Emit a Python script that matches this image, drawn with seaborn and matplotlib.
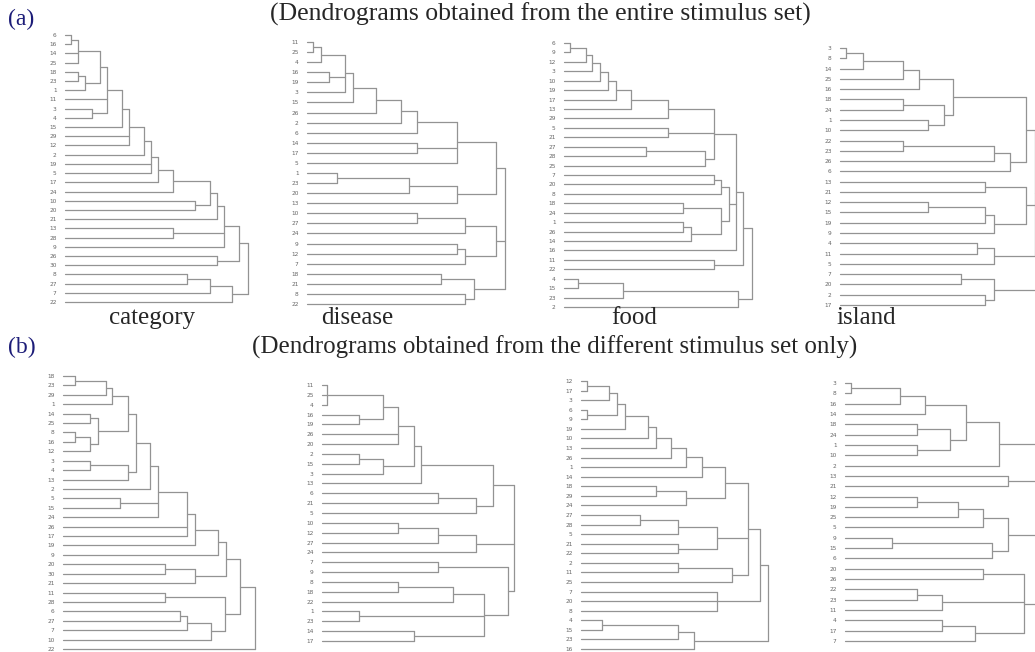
import matplotlib.pyplot as plt
import pandas as pd
import seaborn as sns

# Each tree node is [merge height, child, child, ...]; plain ints are stimulus numbers.
category_all = [550,
                [523,
                 [478,
                  [455,
                   [435,
                    [325,
                     [280,
                      [257,
                       [238,
                        [192,
                         [170,
                          [127,
                           [105, [40, [17, 6, 16], 14, 25], [60, [40, 18, 23], 1]],
                           11, [82, 3, 4]],
                          15],
                         29, 12],
                        2],
                       19, 5],
                      17],
                     24],
                    [390, 10, 20]],
                   21],
                  [325, 13, 28], 9],
                 [455, 26, 30]],
                [500, [435, [367, 8, 27], 7], 22]]

disease_all = [593,
               [566,
                [451,
                 [331, [283, [208, [138, [113, [41, [18, 11, 25], 4], [66, 16, 19], 3], 15], 26], 2], 6],
                 [331, 14, 17], 5],
                [451, [306, [91, 1, 23], 20], 13]],
               [566, [475, [331, 10, 27], 24], [475, [451, 9, 12], 7]],
               [500, [401, 18, 21], [475, 8, 22]]]

food_all = [563,
            [536,
             [517,
              [449,
               [313, [200, [155, [132, [109, [85, [65, [19, 6, 9], 12], 3], 10], 19], 17], 13], 29],
               [313, 5, 21],
               [424, [245, 27, 28], 25]],
              [494,
               [470, [449, 7, 20], 8],
               [470, [357, 18, 24], [380, [357, 1, 26], 14]]],
              16],
             [449, 11, 22]],
            [522, [177, [42, 4, 15], 23], 2]]

island_all = [615,
              [585,
               [558,
                [338, [238, [190, [68, [18, 3, 8], 14], 25], 16], [313, [190, 18, 24], [265, 1, 10]]],
                [510, [462, [190, 22, 23], 26], 6]],
               [558, [435, 13, 21], [462, [435, [265, 12, 15], 19], 9]],
               [462, [412, 4, 11], 5]],
              [462, [363, 7, 20], [435, 2, 17]]]

category_diff = [577,
                 [530,
                  [488,
                   [465,
                    [397,
                     [372,
                      [285,
                       [260, [218, [195, [148, [128, [37, 18, 23], 29], 1],
                                        [105, [82, 14, 25], [82, [37, 8, 16], 12]]],
                                  [195, [82, 3, 4], 13]], 2],
                       [172, 5, 15], 24],
                      26, 17],
                     19],
                    9],
                   [397, [307, 20, 30], 21]],
                  [485, [307, 11, 28], [443, [372, [352, 6, 27], 7], 10]]],
                 22]

disease_diff = [577,
                [512,
                 [298, [275, [228, [182, [15, 11, 25, 4], [110, 16, 19]], 26, 20],
                        [182, [110, 2, 15], 3]], 13],
                 [463, [347, 6, 21], 5]],
                [463, [347, [228, 10, 12], 27], 24],
                [557, [347, 7, 9], [487, [393, [228, 8, 18], 22], [110, 1, 23], [275, 14, 17]]]]

food_diff = [562,
             [537,
              [500,
               [432, [362, [315, [270, [224, [200, [132, [109, [85, [17, 12, 17], 3], [17, 6, 9]],
                                                      19], 10], 13], 26], 1], 14],
                [315, [224, 18, 29], 24]],
               [409, [292, [177, 27, 28], 5], [292, 21, 22]],
               [454, [292, 2, 11], 25]],
              [409, 7, 20, 8]],
             [339, [292, [62, 4, 15], 23], 16]]

island_diff = [590,
               [463, [363, [240, [165, [18, 3, 8], 16], 14], [315, [217, 18, 24], [217, 1, 10]]], 2],
               [488, 13, 21],
               [488, [413, [338, [217, 12, 19], 25], 5], [440, [140, 9, 15], 6]],
               [538, [413, 20, 26], [290, [217, 22, 23], 11], [390, [290, 4, 17], 7]]]

panel_names = ['category', 'disease', 'food', 'island']
title_a = '(Dendrograms obtained from the entire stimulus set)'
title_b = '(Dendrograms obtained from the different stimulus set only)'

W, H = 1035, 652
# tree, left edge of leaves (px), first leaf y (px), last leaf y (px)
panels = [
    (category_all, 65, 35, 302),
    (disease_all, 307, 42, 304),
    (food_all, 564, 43, 307),
    (island_all, 840, 48, 305),
    (category_diff, 63, 376, 649),
    (disease_diff, 322, 385, 641),
    (food_diff, 581, 381, 649),
    (island_diff, 845, 383, 641),
]


def tree_segments(tree):
    rows, leaves = [], []

    def add(x0, x1, y0, y1):
        seg = len(rows) // 2
        rows.append((x0, y0, seg))
        rows.append((x1, y1, seg))

    def walk(node):
        if isinstance(node, int):
            leaves.append(node)
            return len(leaves) - 1, 0
        h = node[0]
        kids = [walk(c) for c in node[1:]]
        ys = [k[0] for k in kids]
        for y, x in kids:
            add(x, h, y, y)
        add(h, h, min(ys), max(ys))
        return (min(ys) + max(ys)) / 2, h

    walk(tree)
    df = pd.DataFrame(rows, columns=['x', 'y', 'seg'])
    return df, leaves, tree[0]


sns.set_style('white')
plt.rcParams['font.family'] = ['Liberation Serif', 'DejaVu Serif']

fig = plt.figure(figsize=(W / 100, H / 100), dpi=100)

for tree, x0, ytop, ybot in panels:
    df, leaves, root = tree_segments(tree)
    n = len(leaves)
    ax = fig.add_axes([x0 / W, 1 - ybot / H, root / 3 / W, (ybot - ytop) / H])
    sns.lineplot(data=df, x='x', y='y', units='seg', estimator=None, sort=False,
                 color='#939393', linewidth=0.9, ax=ax)
    for line in ax.lines:
        line.set_clip_on(False)
    ax.set_xlim(0, root)
    ax.set_ylim(n - 1, 0)
    ax.set_yticks(range(n))
    ax.set_yticklabels(leaves, fontsize=4.2, color='#666666', family='DejaVu Sans')
    ax.set_xticks([])
    ax.set(xlabel='', ylabel='')
    ax.tick_params(axis='y', length=0, pad=6)
    sns.despine(ax=ax, left=True, bottom=True)
    ax.patch.set_visible(False)

fig.text(540 / W, 1 - 14 / H, title_a, ha='center', va='center', fontsize=18.5)
fig.text(8 / W, 1 - 19 / H, '(a)', ha='left', va='center', fontsize=17, color='#1c1c78')
for name, xc in zip(panel_names, [152, 357, 634, 866]):
    fig.text(xc / W, 1 - 318 / H, name, ha='center', va='center', fontsize=18)
fig.text(555 / W, 1 - 347 / H, title_b, ha='center', va='center', fontsize=18)
fig.text(8 / W, 1 - 347 / H, '(b)', ha='left', va='center', fontsize=17, color='#1c1c78')

fig.savefig('out.png', dpi=100)
